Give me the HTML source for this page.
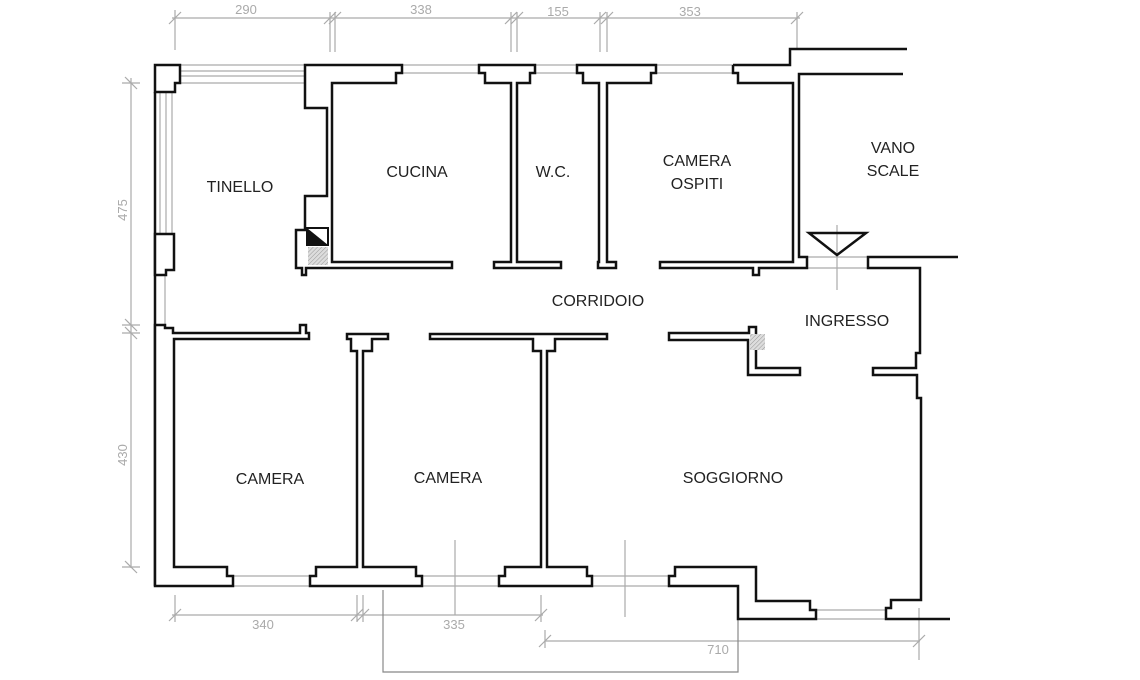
<!DOCTYPE html>
<html><head><meta charset="utf-8"><style>
html,body{margin:0;padding:0;background:#fff;width:1140px;height:680px;overflow:hidden}
svg{display:block}
.w{fill:#fff;stroke:#111;stroke-width:2.5;stroke-linejoin:miter}
.l{fill:none;stroke:#111;stroke-width:2.5}
.g{fill:none;stroke:#aaa;stroke-width:1.2}
.gd{fill:none;stroke:#888;stroke-width:1.2}
.t{font-family:"Liberation Sans",sans-serif;font-size:16px;fill:#222;text-anchor:middle}
.d{font-family:"Liberation Sans",sans-serif;font-size:13px;fill:#aaa;text-anchor:middle}
</style></head><body>
<svg width="1140" height="680" viewBox="0 0 1140 680" xmlns="http://www.w3.org/2000/svg">
<defs><pattern id="h" width="3" height="3" patternUnits="userSpaceOnUse" patternTransform="rotate(45)"><rect width="3" height="3" fill="#ddd"/><line x1="0" y1="0" x2="0" y2="3" stroke="#999" stroke-width="1"/></pattern></defs>

<!-- dimension lines -->
<g class="g">
<line x1="172" y1="18" x2="800" y2="18"/>
<line x1="175" y1="10" x2="175" y2="50"/><line x1="330" y1="12" x2="330" y2="52"/><line x1="335" y1="12" x2="335" y2="52"/>
<line x1="511" y1="12" x2="511" y2="52"/><line x1="517" y1="12" x2="517" y2="52"/><line x1="600" y1="12" x2="600" y2="52"/><line x1="607" y1="12" x2="607" y2="52"/><line x1="797" y1="12" x2="797" y2="48"/>
<line x1="169" y1="24" x2="181" y2="12"/><line x1="324" y1="24" x2="336" y2="12"/><line x1="329" y1="24" x2="341" y2="12"/>
<line x1="505" y1="24" x2="517" y2="12"/><line x1="511" y1="24" x2="523" y2="12"/><line x1="594" y1="24" x2="606" y2="12"/><line x1="601" y1="24" x2="613" y2="12"/><line x1="791" y1="24" x2="803" y2="12"/>
<line x1="131" y1="78" x2="131" y2="568"/>
<line x1="122" y1="83" x2="140" y2="83"/><line x1="122" y1="325" x2="140" y2="325"/><line x1="122" y1="333" x2="140" y2="333"/><line x1="122" y1="567" x2="140" y2="567"/>
<line x1="125" y1="77" x2="137" y2="89"/><line x1="125" y1="319" x2="137" y2="331"/><line x1="125" y1="327" x2="137" y2="339"/><line x1="125" y1="561" x2="137" y2="573"/>
<line x1="172" y1="615" x2="543" y2="615"/>
<line x1="175" y1="595" x2="175" y2="622"/><line x1="357" y1="595" x2="357" y2="622"/><line x1="363" y1="595" x2="363" y2="622"/><line x1="541" y1="595" x2="541" y2="622"/>
<line x1="169" y1="621" x2="181" y2="609"/><line x1="351" y1="621" x2="363" y2="609"/><line x1="357" y1="621" x2="369" y2="609"/><line x1="535" y1="621" x2="547" y2="609"/>
<line x1="545" y1="641" x2="920" y2="641"/>
<line x1="545" y1="630" x2="545" y2="648"/><line x1="539" y1="647" x2="551" y2="635"/>
<line x1="919" y1="608" x2="919" y2="660"/><line x1="913" y1="647" x2="925" y2="635"/>
<line x1="455" y1="540" x2="455" y2="615"/><line x1="625" y1="540" x2="625" y2="617"/>
<line x1="837" y1="225" x2="837" y2="290"/>
</g>
<polyline class="gd" points="383,590 383,672 738,672 738,586"/>
<text class="d" x="246" y="14">290</text><text class="d" x="421" y="14">338</text><text class="d" x="558" y="16">155</text><text class="d" x="690" y="16">353</text>
<text class="d" x="263" y="629">340</text><text class="d" x="454" y="629">335</text><text class="d" x="718" y="654">710</text>
<text class="d" transform="translate(127,210) rotate(-90)">475</text>
<text class="d" transform="translate(127,455) rotate(-90)">430</text>

<!-- windows -->
<g class="g" stroke="#999">
<line x1="180" y1="65" x2="305" y2="65"/><line x1="180" y1="71" x2="305" y2="71"/><line x1="180" y1="76" x2="305" y2="76"/><line x1="180" y1="83" x2="305" y2="83"/>
<line x1="160" y1="92" x2="160" y2="234"/><line x1="166" y1="92" x2="166" y2="234"/><line x1="172" y1="92" x2="172" y2="234"/>
<line x1="165" y1="275" x2="165" y2="325"/>
<line x1="402" y1="65" x2="479" y2="65"/><line x1="402" y1="73" x2="479" y2="73"/>
<line x1="535" y1="65" x2="577" y2="65"/><line x1="535" y1="73" x2="577" y2="73"/>
<line x1="656" y1="65" x2="733" y2="65"/><line x1="656" y1="73" x2="733" y2="73"/>
<line x1="807" y1="257" x2="868" y2="257"/><line x1="807" y1="268" x2="868" y2="268"/>
<line x1="233" y1="576" x2="310" y2="576"/><line x1="233" y1="586" x2="310" y2="586"/>
<line x1="422" y1="576" x2="499" y2="576"/><line x1="422" y1="586" x2="499" y2="586"/>
<line x1="592" y1="576" x2="669" y2="576"/><line x1="592" y1="586" x2="669" y2="586"/>
<line x1="816" y1="610" x2="886" y2="610"/><line x1="816" y1="619" x2="886" y2="619"/>
</g>

<!-- walls -->
<line class="l" x1="155" y1="92" x2="155" y2="586"/>
<polygon class="w" points="155,65 180,65 180,83 175,83 175,92 155,92"/>
<polygon class="w" points="155,234 174,234 174,270 166,270 166,275 155,275"/>
<polygon class="w" points="305,65 402,65 402,73 396,73 396,83 332,83 332,262 452,262 452,268 306,268 306,275 302,275 302,268 296,268 296,230 305,230 305,196 327,196 327,108 305,108"/>
<rect x="307" y="228" width="21" height="17" fill="#fff" stroke="#111" stroke-width="2"/>
<polygon points="307,228 328,245 307,245" fill="#111"/><polygon points="307,228 318,228 328,237 328,245" fill="#111" opacity="0"/>
<rect x="308" y="247" width="20" height="18" fill="url(#h)"/>
<polygon class="w" points="479,65 535,65 535,73 530,73 530,83 517,83 517,262 561,262 561,268 494,268 494,262 511,262 511,83 485,83 485,73 479,73"/>
<polygon class="w" points="577,65 656,65 656,73 651,73 651,83 607,83 607,262 616,262 616,268 598,268 598,262 599,262 599,83 583,83 583,73 577,73"/>
<polyline class="l" points="733,65 790,65 790,49 907,49"/>
<polyline class="l" points="733,65 733,73 738,73 738,83 793,83 793,262 660,262 660,268 753,268 753,275 759,275 759,268 807,268 807,257 799,257 799,74 903,74"/>
<polygon points="809,233 866,233 837,255" fill="none" stroke="#111" stroke-width="2.5"/>
<polyline class="l" points="958,257 868,257 868,268 920,268 920,353 916,353 916,368 873,368 873,375 917,375 917,398 921,398 921,600 891,600 891,608 886,608 886,619 950,619"/>
<polygon class="w" points="669,333 749,333 749,327 756,327 756,368 800,368 800,375 748,375 748,340 669,340"/>
<rect x="750" y="334" width="15" height="16" fill="url(#h)"/>
<polygon class="w" points="155,325 165,325 165,328 173,328 173,333 300,333 300,325 306,325 306,333 309,333 309,339 174,339 174,567 227,567 227,576 233,576 233,586 155,586"/>
<polygon class="w" points="310,586 310,576 316,576 316,567 357,567 357,351 351,351 351,339 347,339 347,334 388,334 388,339 372,339 372,351 363,351 363,567 416,567 416,576 422,576 422,586"/>
<polygon class="w" points="430,334 607,334 607,339 555,339 555,351 547,351 547,567 587,567 587,576 592,576 592,586 499,586 499,576 505,576 505,567 541,567 541,351 533,351 533,339 430,339"/>
<polygon class="w" points="669,586 669,576 675,576 675,567 756,567 756,601 810,601 810,610 816,610 816,619 738,619 738,586"/>

<!-- labels -->
<text class="t" x="240" y="192">TINELLO</text>
<text class="t" x="417" y="177">CUCINA</text>
<text class="t" x="553" y="177">W.C.</text>
<text class="t" x="697" y="166">CAMERA</text>
<text class="t" x="697" y="189">OSPITI</text>
<text class="t" x="893" y="153">VANO</text>
<text class="t" x="893" y="176">SCALE</text>
<text class="t" x="598" y="306">CORRIDOIO</text>
<text class="t" x="847" y="326">INGRESSO</text>
<text class="t" x="270" y="484">CAMERA</text>
<text class="t" x="448" y="483">CAMERA</text>
<text class="t" x="733" y="483">SOGGIORNO</text>
</svg>
</body></html>
